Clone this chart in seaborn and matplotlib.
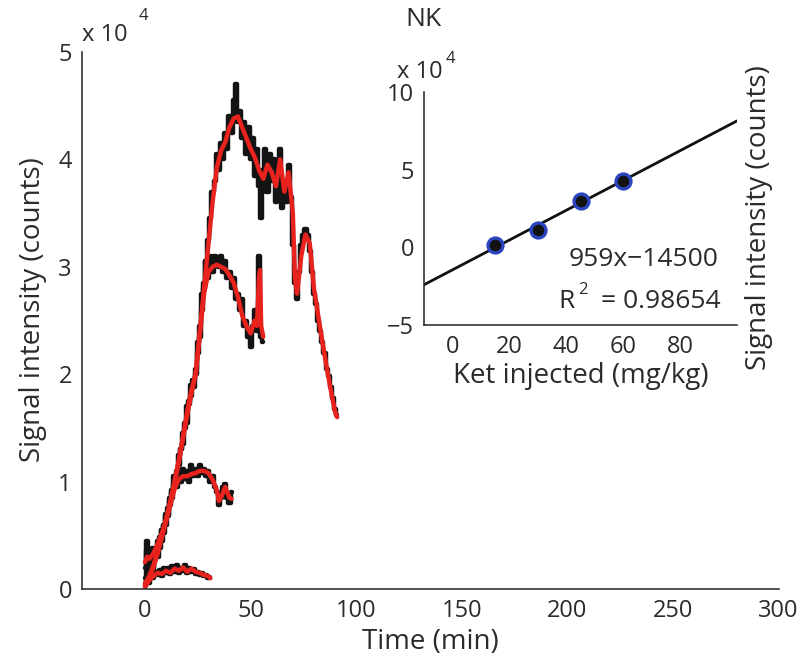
import matplotlib
matplotlib.use("Agg")
import matplotlib.pyplot as plt
import pandas as pd
import seaborn as sns

# ---------------- time courses (signal in units of 1e4 counts) ----------------
doses = [15, 30, 45, 60]

# raw traces, sampled every minute
raw_15 = [0.03, 0.10, 0.06, 0.12, 0.10, 0.16, 0.13, 0.18, 0.12, 0.20, 0.15, 0.20,
          0.14, 0.21, 0.16, 0.22, 0.15, 0.20, 0.17, 0.22, 0.15, 0.20, 0.16, 0.19,
          0.14, 0.16, 0.13, 0.15, 0.12, 0.13, 0.10, 0.11]
raw_30 = [0.20, 0.45, 0.30, 0.25, 0.38, 0.35, 0.45, 0.48, 0.55, 0.60, 0.68, 0.70,
          0.82, 0.85, 0.98, 0.95, 1.10, 1.00, 1.12, 1.02, 1.10, 1.00, 1.15, 1.05,
          1.12, 1.05, 1.15, 1.08, 1.12, 1.05, 1.10, 1.00, 1.05, 0.95, 0.90, 0.78,
          0.85, 0.95, 0.98, 0.85, 0.80, 0.90]
raw_45 = [0.05, 0.10, 0.08, 0.20, 0.18, 0.30, 0.30, 0.45, 0.45, 0.60, 0.60, 0.75,
          0.78, 0.92, 0.95, 1.10, 1.15, 1.30, 1.35, 1.55, 1.55, 1.75, 1.80, 1.95,
          2.00, 2.30, 2.35, 2.75, 2.80, 3.05, 2.90, 3.10, 2.95, 3.10, 3.05, 3.00,
          3.10, 2.95, 3.05, 2.90, 2.95, 2.80, 2.90, 2.70, 2.75, 2.60, 2.70, 2.45,
          2.50, 2.35, 2.25, 2.45, 2.60, 2.40, 3.10, 2.35, 2.30]
raw_60 = [0.10, 0.35, 0.15, 0.30, 0.20, 0.35, 0.40, 0.38, 0.55, 0.52, 0.70, 0.68,
          0.85, 0.90, 1.05, 1.05, 1.25, 1.30, 1.45, 1.50, 1.70, 1.72, 1.90, 1.88,
          2.05, 2.20, 2.45, 2.60, 2.85, 3.05, 3.25, 3.45, 3.70, 3.80, 4.05, 3.90,
          4.15, 4.00, 4.25, 4.10, 4.40, 4.25, 4.55, 4.70, 4.35, 4.45, 4.20, 4.35,
          4.05, 4.30, 4.00, 4.20, 3.85, 4.10, 3.75, 3.45, 3.90, 4.10, 3.70, 4.05,
          3.80, 4.00, 3.60, 3.75, 4.10, 3.55, 3.80, 3.60, 3.95, 3.65, 3.20, 2.85,
          2.70, 2.95, 3.20, 3.30, 3.35, 3.30, 3.15, 2.95, 2.75, 2.65, 2.50, 2.40,
          2.30, 2.20, 2.05, 1.98, 1.88, 1.78, 1.68, 1.62]
raw_traces = [raw_15, raw_30, raw_45, raw_60]

# smoothed traces
smooth_t_15 = [0, 1, 2, 4, 6, 8, 10, 12, 14, 16, 18, 20, 22, 24, 26, 28, 30, 31]
smooth_15 = [0.02, 0.05, 0.08, 0.12, 0.15, 0.14, 0.17, 0.15, 0.19, 0.17, 0.20,
             0.16, 0.19, 0.16, 0.15, 0.13, 0.12, 0.10]
smooth_t_30 = [0, 1, 2, 4, 6, 8, 10, 12, 14, 16, 18, 20, 22, 24, 26, 28, 30, 32,
               34, 35, 36, 38, 40, 41]
smooth_30 = [0.25, 0.30, 0.28, 0.33, 0.42, 0.52, 0.64, 0.78, 0.93, 1.02, 1.05,
             1.05, 1.07, 1.08, 1.10, 1.10, 1.08, 1.02, 0.92, 0.82, 0.85, 0.95,
             0.85, 0.84]
smooth_t_45 = [0, 2, 4, 6, 8, 10, 12, 14, 16, 18, 20, 22, 24, 26, 28, 30, 32, 34,
               36, 38, 40, 42, 44, 46, 48, 50, 52, 53, 54, 54.5, 55, 56]
smooth_45 = [0.03, 0.10, 0.20, 0.33, 0.48, 0.63, 0.80, 0.98, 1.18, 1.40, 1.62,
             1.82, 2.00, 2.38, 2.75, 2.95, 3.00, 3.02, 3.00, 2.98, 2.92, 2.85,
             2.72, 2.55, 2.45, 2.38, 2.50, 2.45, 2.90, 2.97, 2.45, 2.35]
smooth_t_60 = [0, 2, 4, 6, 8, 10, 12, 14, 16, 18, 20, 22, 24, 26, 28, 30, 32, 34,
               36, 38, 40, 42, 44, 46, 48, 50, 52, 54, 56, 58, 60, 62, 64, 66, 68,
               70, 71, 72, 74, 76, 78, 80, 82, 84, 86, 88, 90, 91]
smooth_60 = [0.05, 0.12, 0.22, 0.35, 0.50, 0.65, 0.82, 1.00, 1.20, 1.42, 1.65,
             1.85, 2.00, 2.40, 2.80, 3.20, 3.60, 3.92, 4.08, 4.16, 4.30, 4.38,
             4.40, 4.30, 4.20, 4.10, 4.02, 3.90, 3.82, 3.95, 3.88, 3.75, 4.00,
             3.70, 3.88, 3.50, 2.90, 2.75, 3.10, 3.30, 3.22, 2.80, 2.55, 2.30,
             2.07, 1.85, 1.65, 1.60]
smooth_times = [smooth_t_15, smooth_t_30, smooth_t_45, smooth_t_60]
smooth_traces = [smooth_15, smooth_30, smooth_45, smooth_60]

# ---------------- calibration (inset) ----------------
ket_dose = [15, 30, 45, 60]                 # mg/kg
peak_signal = [1700, 11400, 30000, 43000]   # counts
fit_slope = 959
fit_intercept = -14500
fit_r2 = 0.98654

# ---------------- tidy tables ----------------
raw_df = pd.concat([
    pd.DataFrame({"time": list(range(len(v))), "signal": v, "dose": d})
    for d, v in zip(doses, raw_traces)
], ignore_index=True)
smooth_df = pd.concat([
    pd.DataFrame({"time": t, "signal": v, "dose": d})
    for d, t, v in zip(doses, smooth_times, smooth_traces)
], ignore_index=True)

fit_x = [-10, 100]
fit_df = pd.DataFrame({"dose": fit_x,
                       "signal": [(fit_slope * x + fit_intercept) / 1e4 for x in fit_x]})
cal_df = pd.DataFrame({"dose": ket_dose, "signal": [s / 1e4 for s in peak_signal]})

# ---------------- style ----------------
sns.set_style("white")
plt.rcParams["font.family"] = ["Open Sans", "DejaVu Sans"]
plt.rcParams["font.size"] = 17
TXT = "#2b2b2b"
RED = "#e8231e"
TICK_FS = 17
LABEL_FS = 20

W, H = 811, 660
fig = plt.figure(figsize=(W / 100, H / 100), dpi=100)


def fx(px):
    return px / W


def fy(py):
    return 1 - py / H


def style_axes(ax):
    for side in ("top", "right"):
        ax.spines[side].set_visible(False)
    for side in ("left", "bottom"):
        ax.spines[side].set_color("#222222")
        ax.spines[side].set_linewidth(1.1)
    ax.tick_params(direction="in", length=4, width=1.0, color="#222222",
                   labelcolor=TXT, labelsize=TICK_FS, pad=7)


# ---------------- main time-course panel ----------------
ax = fig.add_axes([fx(81.6), fy(589), fx(778.6) - fx(81.6), fy(52) - fy(589)])
sns.lineplot(data=raw_df, x="time", y="signal", units="dose", estimator=None,
             sort=False, color="#141414", lw=3.2, drawstyle="steps-mid",
             legend=False, ax=ax)
sns.lineplot(data=smooth_df, x="time", y="signal", units="dose", estimator=None,
             sort=False, color=RED, lw=3.2, legend=False, ax=ax)
ax.set_xlim(-30, 300)
ax.set_ylim(0, 5)
ax.set_xticks([0, 50, 100, 150, 200, 250, 300])
ax.set_yticks([0, 1, 2, 3, 4, 5])
ax.set_yticklabels(["0", "1", "2", "3", "4", "5"])
style_axes(ax)
ax.set_xlabel("Time (min)", color=TXT, fontsize=LABEL_FS, labelpad=4)
ax.set_ylabel("Signal intensity (counts)", color=TXT, fontsize=LABEL_FS)
ax.yaxis.set_label_coords(-0.05, 0.52)
fig.text(fx(82), fy(35), "x 10", color=TXT, fontsize=TICK_FS, va="center", ha="left")
fig.text(fx(139), fy(16), "4", color=TXT, fontsize=12, va="center", ha="left")

# ---------------- inset calibration panel ----------------
ax2 = fig.add_axes([fx(424), fy(325), fx(737) - fx(424), fy(92) - fy(325)])
sns.lineplot(data=fit_df, x="dose", y="signal", color="#111111", lw=2.0, ax=ax2)
sns.scatterplot(data=cal_df, x="dose", y="signal", s=115, color="#111111",
                edgecolor="#2a45bd", linewidth=2.4, zorder=3, ax=ax2, legend=False)
ax2.set_xlim(-10, 100)
ax2.set_ylim(-5, 10)
ax2.set_xticks([0, 20, 40, 60, 80])
ax2.set_yticks([-5, 0, 5, 10])
ax2.set_yticklabels(["\u22125", "0", "5", "10"])
style_axes(ax2)
ax2.set_xlabel("Ket injected (mg/kg)", color=TXT, fontsize=LABEL_FS, labelpad=2)
ax2.set_ylabel("")
fig.text(fx(759), fy(218), "Signal intensity (counts)", color=TXT, fontsize=LABEL_FS,
         rotation=90, ha="center", va="center")
fig.text(fx(423), fy(19), "NK", color=TXT, fontsize=19, ha="center", va="center")
fig.text(fx(397), fy(72), "x 10", color=TXT, fontsize=TICK_FS, va="center", ha="left")
fig.text(fx(446), fy(59), "4", color=TXT, fontsize=12, va="center", ha="left")

fig.text(fx(718), fy(260), f"{fit_slope}x\u2212{abs(fit_intercept)}", color=TXT,
         fontsize=19, ha="right", va="center")
fig.text(fx(558), fy(301), "R", color=TXT, fontsize=19, ha="left", va="center")
fig.text(fx(578), fy(290), "2", color=TXT, fontsize=12, ha="left", va="center")
fig.text(fx(721), fy(301), f"= {fit_r2}", color=TXT, fontsize=19,
         ha="right", va="center")

fig.savefig("out.png", dpi=100)
